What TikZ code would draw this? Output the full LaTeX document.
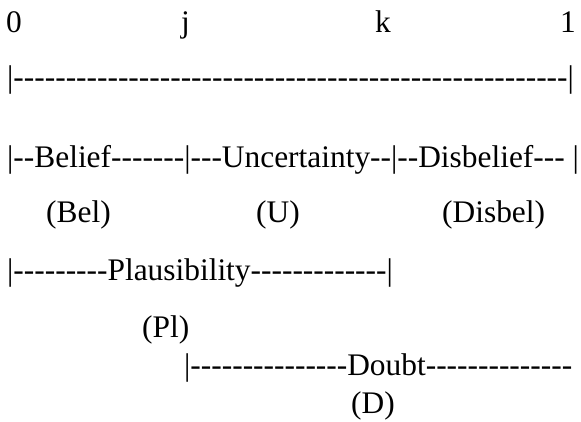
\documentclass[tikz,border=0pt]{standalone}
\usepackage{fontspec}
\setmainfont{Liberation Serif}[Ligatures=TeXOff]
\usepackage{tikz}
\tikzset{txt/.style={anchor=base west, inner sep=0pt, font=\fontsize{31.4}{38}\selectfont}}

\begin{document}
\begin{tikzpicture}[x=1pt, y=-1pt]
    \useasboundingbox (0, 0) rectangle (581, 421);
    %the points on the scale
    \node[txt] (zero) at (6, 32) {0};
    \node[txt] (jpt) at (181, 32) {j};
    \node[txt] (kpt) at (375, 32) {k};
    \node[txt] (one) at (560, 32) {1};
    %the whole interval
    \node[txt] (scale) at (7, 87) {|-----------------------------------------------------|};
    %the three parts
    \node[txt] (parts) at (7, 167) {|--Belief-------|---Uncertainty--|--Disbelief--- |};
    \node[txt] (bel) at (46, 222) {(Bel)};
    \node[txt] (unc) at (256, 222) {(U)};
    \node[txt] (disbel) at (442, 222) {(Disbel)};
    %plausibility and doubt
    \node[txt] (plaus) at (7, 280) {|---------Plausibility-------------|};
    \node[txt] (pl) at (142, 337) {(Pl)};
    \node[txt] (doubt) at (184, 375) {|---------------Doubt--------------};
    \node[txt] (dd) at (351, 413) {(D)};
\end{tikzpicture}
\end{document}
